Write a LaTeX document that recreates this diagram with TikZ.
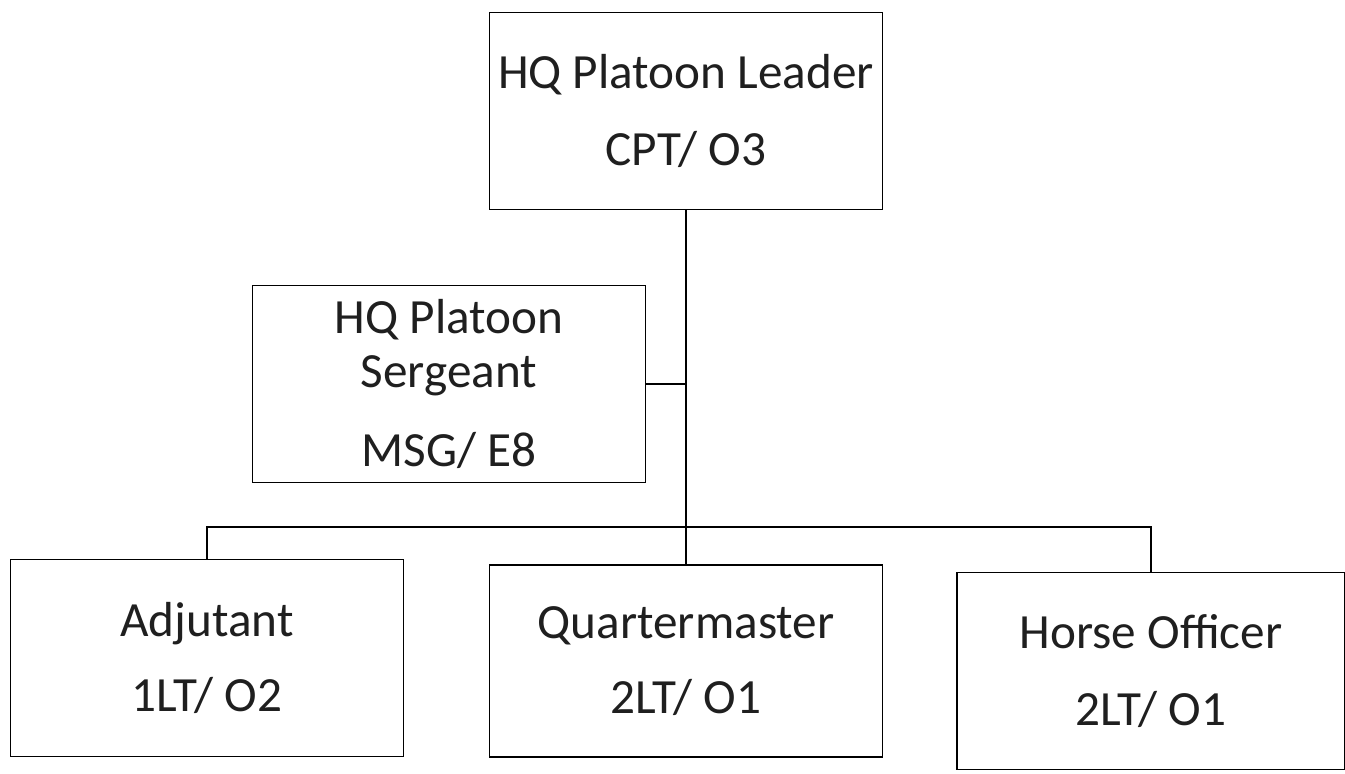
\documentclass[tikz,border=0pt]{standalone}
\usepackage{fontspec}
\setmainfont{Carlito}
\usepackage{tikz}
\usetikzlibrary{positioning, calc}

\tikzset{
    rankbox/.style={draw, line width=1.1pt, rectangle, align=center,
        minimum width=7.86cm, minimum height=3.94cm, inner sep=0pt,
        font=\fontsize{28}{31}\selectfont, text=black!88},
    link/.style={line width=1.1pt}
}

\begin{document}
\begin{tikzpicture}
    % \clip (0,0) rectangle (26.9,15.46);
    \useasboundingbox (0,0) rectangle (26.9,15.46);
    \node[rankbox] (leader) at (13.72,13.24) {HQ Platoon Leader\\[13pt] CPT/ O3};
    \node[rankbox] (sergeant) at (8.98,7.78) {HQ Platoon\\ Sergeant\\[14pt] MSG/ E8};
    \node[rankbox] (adjutant) at (4.14,2.30) {Adjutant\\[12pt] 1LT/ O2};
    \node[rankbox, minimum height=3.84cm] (qmaster) at (13.72,2.24) {Quartermaster\\[12pt] 2LT/ O1};
    \node[rankbox, minimum width=7.76cm] (horse) at (23.02,2.04) {Horse Officer\\[13pt] 2LT/ O1};
    \coordinate (bar) at (13.72,4.92);

    \draw[link] (leader.south) -- (qmaster.north);
    \draw[link] (sergeant.east) -- (sergeant.east -| leader.south);
    \draw[link] (adjutant.north) |- (bar) -| (horse.north);
\end{tikzpicture}
\end{document}
